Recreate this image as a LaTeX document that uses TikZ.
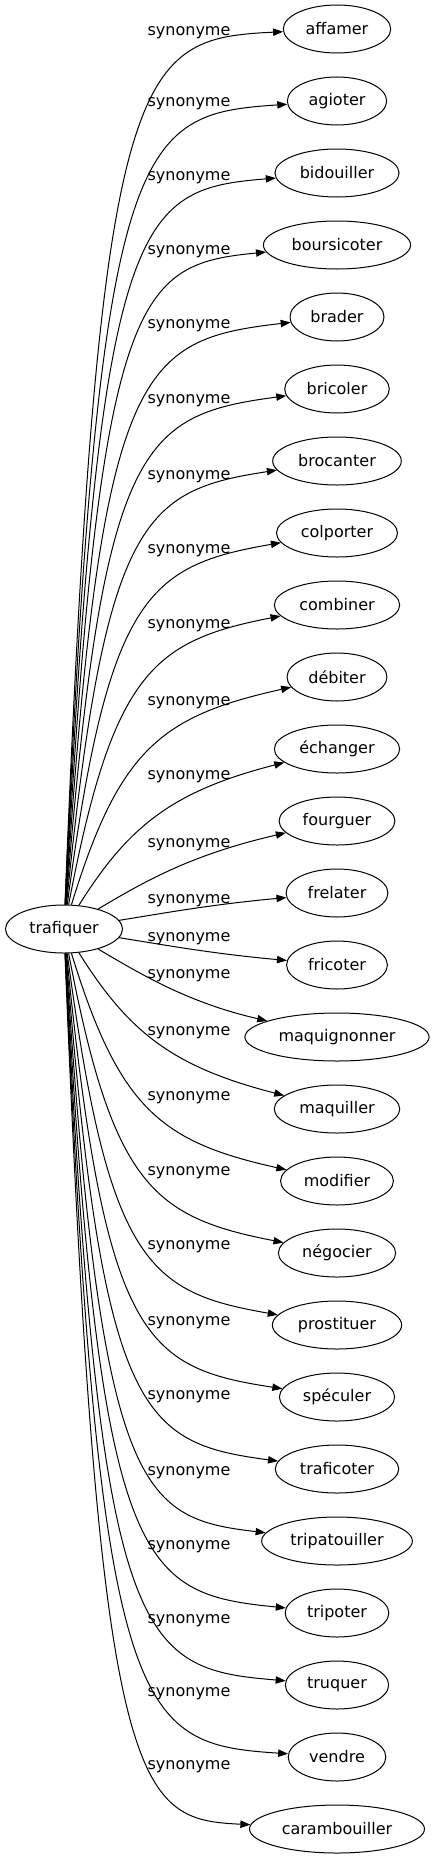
\documentclass[tikz,border=0pt]{standalone}
\usepackage{fontspec}
\setmainfont{DejaVu Sans}
\usetikzlibrary{arrows.meta,shapes.geometric}

\begin{document}
\begin{tikzpicture}[
  x=0.75pt, y=-0.75pt,
  font=\fontsize{12pt}{14pt}\selectfont,
  syn/.style={draw, ellipse, line width=0.75pt, inner xsep=5pt, inner ysep=2pt,
              minimum height=36pt},
  edgelabel/.style={anchor=base, inner sep=0pt},
  arrow/.style={-{Triangle[length=7.5pt, width=5.5pt]}, line width=0.75pt}
]
\useasboundingbox (0,0) rectangle (432,1859);
\node[syn] (trafiquer) at (64,929) {trafiquer};
% synonyms on the right, one per row, with the edge label on the left
\foreach \name/\word/\ly [count=\k from 0] in {
  affamer/affamer/30, agioter/agioter/101, bidouiller/bidouiller/175,
  boursicoter/boursicoter/249, brader/brader/323, bricoler/bricoler/398,
  brocanter/brocanter/474, colporter/colporter/548, combiner/combiner/623,
  debiter/débiter/700, echanger/échanger/774, fourguer/fourguer/842,
  frelater/frelater/898, fricoter/fricoter/936, maquignonner/maquignonner/973,
  maquiller/maquiller/1030, modifier/modifier/1095, negocier/négocier/1170,
  prostituer/prostituer/1244, speculer/spéculer/1320, traficoter/traficoter/1394,
  tripatouiller/tripatouiller/1470, tripoter/tripoter/1544, truquer/truquer/1618,
  vendre/vendre/1691, carambouiller/carambouiller/1764}{
  \node[syn] (\name) at (337,29+72*\k) {\word};
  \node[edgelabel] (lab-\name) at (189,\ly+5.5) {synonyme};
  % control points: long straight run from trafiquer, bend just before the label
  \pgfmathsetmacro\yh{29+72*\k}
  \pgfmathsetmacro\dd{929-\yh}
  \pgfmathsetmacro\D{abs(\dd)}
  \pgfmathsetmacro\sg{sign(\dd)}
  \pgfmathsetmacro\xa{98+45*exp(-(\D-100)/200)}
  \pgfmathsetmacro\ya{\yh+\sg*min(28+0.069*(900-\D),0.58*\D)}
  \pgfmathsetmacro\xb{135+75*exp(-(\D-36)/200)}
  \pgfmathsetmacro\yb{\yh+\sg*min(10+0.045*(900-\D),0.32*\D)}
  \draw[arrow] (trafiquer) .. controls (\xa,\ya) and (\xb,\yb) .. (\name);
}
\end{tikzpicture}
\end{document}
